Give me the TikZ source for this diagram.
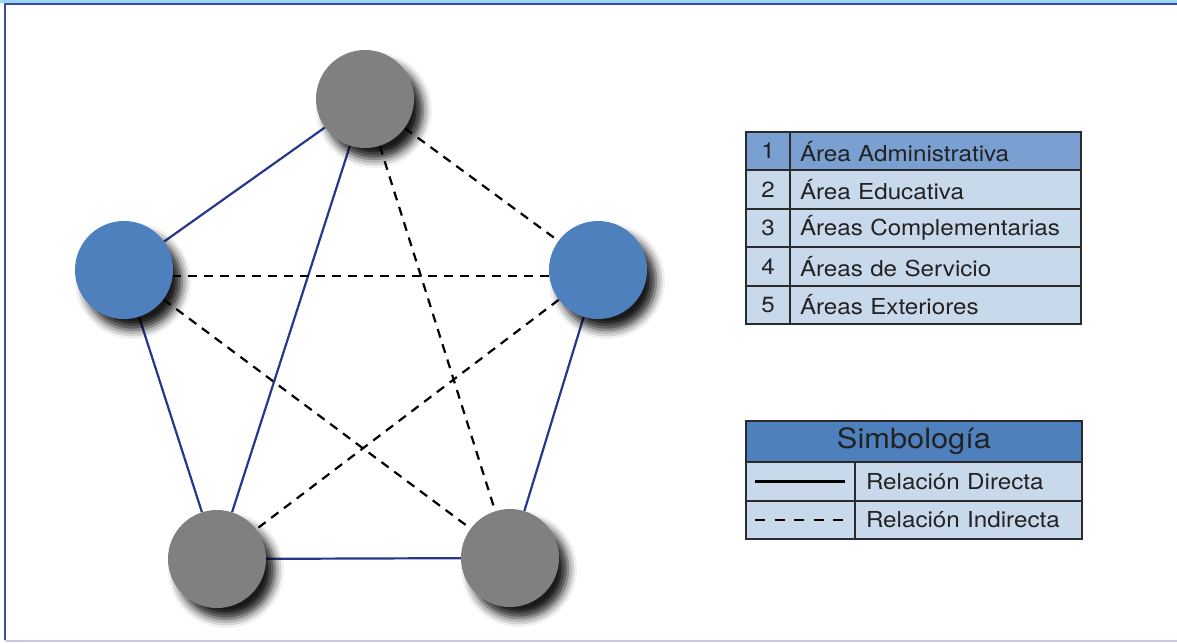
\documentclass[tikz,border=0pt]{standalone}
\usepackage{fontspec}
\setmainfont{TeX Gyre Heros}
\newfontfamily\tabfont[FakeStretch=1.1]{TeX Gyre Heros}
\usetikzlibrary{shadows.blur,backgrounds}
\definecolor{navy}{HTML}{27378C}
\definecolor{framenavy}{HTML}{3A4DA6}
\definecolor{skyband}{HTML}{9AD6F3}
\definecolor{lavline}{HTML}{C6C9E0}
\definecolor{areablue}{HTML}{4E80BD}
\definecolor{headblue}{HTML}{7AA0D2}
\definecolor{rowblue}{HTML}{C9D9EC}
\definecolor{cellline}{HTML}{2B2B2B}
\definecolor{nodegray}{HTML}{808080}
\definecolor{textgray}{HTML}{222222}
\tikzset{
  area/.style={circle,minimum size=98pt,inner sep=0pt,fill=#1,
    blur shadow={shadow xshift=9pt,shadow yshift=-11pt,shadow blur radius=9pt,shadow opacity=90}},
  directa/.style={navy,line width=2.2pt},
  indirecta/.style={black,line width=2.2pt,dash pattern=on 9pt off 7pt},
  cell/.style={draw=cellline,line width=2pt,fill=#1,anchor=north west,inner sep=0pt,
    text=textgray,font={\tabfont\fontsize{22}{26}\selectfont}},
}
\begin{document}
\begin{tikzpicture}[x=1pt,y=-1pt]
\useasboundingbox (0,0) rectangle (1177,644);
% marco
\fill[skyband] (0,0) rectangle (1177,3);
\draw[framenavy,line width=2pt] (5,640) -- (5,4.5) -- (1177,4.5);
\draw[lavline,line width=2pt] (5,641) -- (1177,641);
% areas
\node[area=nodegray] (sup) at (365,99) {};
\node[area=areablue] (izq) at (124,270) {};
\node[area=areablue] (der) at (598,270) {};
\node[area=nodegray] (infizq) at (217,559) {};
\node[area=nodegray] (infder) at (510,558) {};
\begin{scope}[on background layer]
\draw[directa] (sup) -- (izq);
\draw[directa] (sup) -- (infizq);
\draw[directa] (izq) -- (infizq);
\draw[directa] (infizq) -- (infder);
\draw[directa] (der) -- (infder);
\draw[indirecta] (sup) -- (der);
\draw[indirecta] (sup) -- (infder);
\draw[indirecta] ([yshift=-6pt]izq.center) -- ([yshift=-6pt]der.center);
\draw[indirecta] (izq) -- (infder);
\draw[indirecta] (der) -- (infizq);
\end{scope}
% tabla de areas
\foreach \num/\txt/\col [count=\i from 0] in {1/{Área Administrativa}/headblue,2/{Área Educativa}/rowblue,
    3/{Áreas Complementarias}/rowblue,4/{Áreas de Servicio}/rowblue,5/{Áreas Exteriores}/rowblue} {
  \node[cell=\col,minimum width=44pt,minimum height=38.4pt] (num\num) at (745,131+38.4*\i) {\num};
  \node[cell=\col,text width=271pt,inner xsep=10pt,minimum height=38.4pt,align=left] (area\num) at (789,131+38.4*\i) {\txt};
}
% simbologia
\node[cell=areablue,minimum width=336pt,minimum height=41pt,font={\tabfont\fontsize{28}{32}\selectfont}] (simb) at (745,420) {Simbología};
\node[cell=rowblue,minimum width=109pt,minimum height=39pt] (muestra1) at (745,461) {};
\node[cell=rowblue,text width=205pt,inner xsep=11pt,minimum height=39pt,align=left] (rel1) at (854,461) {Relación Directa};
\node[cell=rowblue,minimum width=109pt,minimum height=38pt] (muestra2) at (745,500) {};
\node[cell=rowblue,text width=205pt,inner xsep=11pt,minimum height=38pt,align=left] (rel2) at (854,500) {Relación Indirecta};
\draw[black,line width=2.5pt] ([xshift=10pt]muestra1.west) -- ([xshift=-11pt]muestra1.east);
\draw[black,line width=2.5pt,dash pattern=on 10pt off 9.5pt] ([xshift=10pt]muestra2.west) -- ([xshift=-11pt]muestra2.east);
\end{tikzpicture}
\end{document}
